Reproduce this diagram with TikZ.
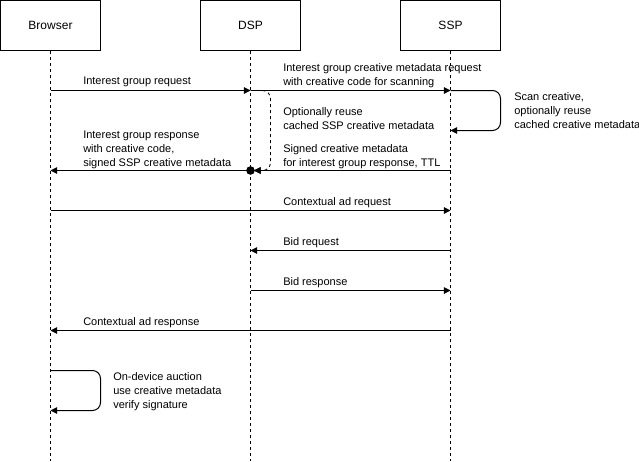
\documentclass[tikz,border=0pt]{standalone}
\usepackage{fontspec}
\setmainfont{Liberation Sans}
\usetikzlibrary{arrows.meta}
\begin{document}
\begin{tikzpicture}[x=0.75pt,y=-0.75pt,
  actor/.style={draw,line width=0.75pt,minimum width=75pt,minimum height=37.5pt,inner sep=0pt,font=\fontsize{9}{11}\selectfont},
  life/.style={line width=0.6pt,dash pattern=on 2.25pt off 2.25pt},
  msg/.style={line width=0.75pt,-{Triangle[length=5pt,width=5pt]}},
  lbl/.style={anchor=west,align=left,inner sep=0pt,yshift=-1.2pt,font=\fontsize{8.25}{10.5}\selectfont}]
\useasboundingbox (0,0) rectangle (639,461);
% actors
\node[actor] (browser) at (50.5,25.5) {Browser};
\node[actor] (dsp) at (250.5,25.5) {DSP};
\node[actor] (ssp) at (450.5,25.5) {SSP};
\coordinate (bEnd) at (50.5,461);
\coordinate (dEnd) at (250.5,461);
\coordinate (sEnd) at (450.5,461);
\draw[life] (browser.south) -- (bEnd);
\draw[life] (dsp.south) -- (dEnd);
\draw[life] (ssp.south) -- (sEnd);
% coordinates on lifelines
\coordinate (b90) at (50.5,90.5);
\coordinate (d90) at (250.5,90.5);
\coordinate (s90) at (450.5,90.5);
\coordinate (s130) at (450.5,130.5);
\coordinate (d170) at (250.5,170.5);
\coordinate (d170t) at (254,170.5);
\coordinate (s170) at (450.5,170.5);
\coordinate (b170) at (50.5,170.5);
\coordinate (b210) at (50.5,210.5);
\coordinate (s210) at (450.5,210.5);
\coordinate (s250) at (450.5,250.5);
\coordinate (d250) at (250.5,250.5);
\coordinate (d290) at (250.5,290.5);
\coordinate (s290) at (450.5,290.5);
\coordinate (s330) at (450.5,330.5);
\coordinate (b330) at (50.5,330.5);
\coordinate (b370) at (50.5,370.5);
\coordinate (b410) at (50.5,410.5);
% messages
\draw[msg] (b90) -- (d90);
\node[lbl] (l1) at (83,80) {Interest group request};
\draw[msg] (d90) -- (s90);
\node[lbl] (l2) at (283,74.5) {Interest group creative metadata request\\with creative code for scanning};
\draw[msg,rounded corners=6pt] (s90) -- (500.5,90.5) -- (500.5,130.5) -- (s130);
\node[lbl] (l3) at (514,109) {Scan creative,\\optionally reuse\\cached creative metadata};
\draw[msg,life,line width=0.6pt,rounded corners=6pt] (d90) -- (270.5,90.5) -- (270.5,170.5) -- (d170t);
\node[lbl] (l4) at (283,117) {Optionally reuse\\cached SSP creative metadata};
\draw[msg] (s170) -- (d170t);
\node[lbl] (l5) at (283,155) {Signed creative metadata\\for interest group response, TTL};
\fill (d170) circle (4.3);
\draw[msg] (d170) -- (b170);
\node[lbl] (l6) at (83,148) {Interest group response\\with creative code,\\signed SSP creative metadata};
\draw[msg] (b210) -- (s210);
\node[lbl] (l7) at (283,201) {Contextual ad request};
\draw[msg] (s250) -- (d250);
\node[lbl] (l8) at (283,241) {Bid request};
\draw[msg] (d290) -- (s290);
\node[lbl] (l9) at (283,281) {Bid response};
\draw[msg] (s330) -- (b330);
\node[lbl] (l10) at (83,321) {Contextual ad response};
\draw[msg,rounded corners=6pt] (b370) -- (100.5,370.5) -- (100.5,410.5) -- (b410);
\node[lbl] (l11) at (113,390) {On-device auction\\use creative metadata\\verify signature};
\end{tikzpicture}
\end{document}
